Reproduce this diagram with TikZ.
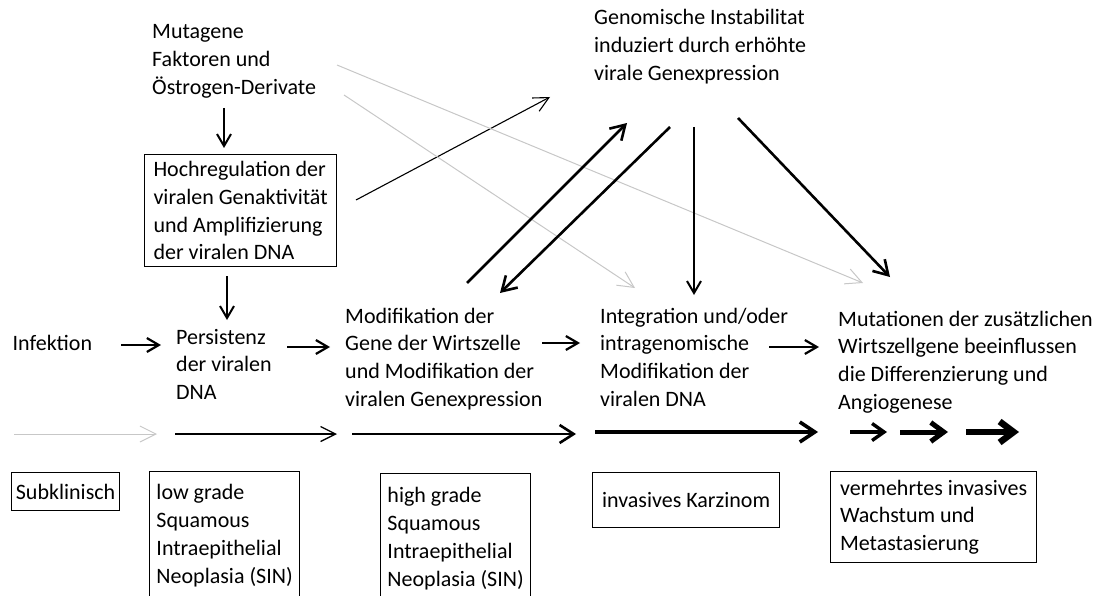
\documentclass[tikz,border=0pt]{standalone}
\usepackage{fontspec}
\setmainfont{Carlito}
\usetikzlibrary{arrows.meta}
\newcommand{\schrift}{\fontsize{22pt}{27.7pt}\selectfont}
\tikzset{
  txt/.style={anchor=base west, inner sep=0pt, align=left, font=\schrift},
  kasten/.style={draw, line width=1.2pt, anchor=north west, inner sep=0pt,
    align=left, font=\schrift},
  pfeil/.style={line width=2pt, -{Straight Barb[length=12pt, width=14pt]}},
  dick/.style={line width=2.6pt, -{Straight Barb[length=14pt, width=17pt]}},
  duenn/.style={line width=1.1pt, -{Straight Barb[length=15pt, width=15pt]}},
  grau/.style={line width=1pt, draw=black!22,
    -{Straight Barb[length=16pt, width=16pt]}},
}

\begin{document}
\begin{tikzpicture}[x=1pt, y=-1pt]
\path[use as bounding box, clip] (0,0) rectangle (1102,596);
% obere Reihe (base = letzte Zeile)
\node[txt] (mutag) at (152,94.4) {Mutagene\\Faktoren und\\Östrogen-Derivate};
\node[txt] (genom) at (594,80.4) {Genomische Instabilitat\\induziert durch erhöhte\\virale Genexpression};
\node[kasten, minimum width=192pt, minimum height=112pt] (hoch) at (144,154)
  {Hochregulation der\\viralen Genaktivität\\und Amplifizierung\\der viralen DNA};
% mittlere Reihe
\node[txt] (infekt) at (12.5,350) {Infektion};
\node[txt] (persist) at (176,399.4) {Persistenz\\der viralen\\DNA};
\node[txt] (modif) at (345,406.1) {Modifikation der\\Gene der Wirtszelle\\und Modifikation der\\viralen Genexpression};
\node[txt] (integ) at (600,406.1) {Integration und/oder\\intragenomische\\Modifikation der\\viralen DNA};
\node[txt] (mutat) at (838,409.1) {Mutationen der zusätzlichen\\Wirtszellgene beeinflussen\\die Differenzierung und\\Angiogenese};
% untere Reihe
\node[kasten, minimum width=108pt, minimum height=38pt] (subkl) at (11,472) {Subklinisch};
\node[kasten, minimum width=150pt, minimum height=128pt] (low) at (149,471)
  {low grade\\Squamous\\Intraepithelial\\Neoplasia (SIN)};
\node[kasten, minimum width=150pt, minimum height=130pt] (high) at (380,473)
  {high grade\\Squamous\\Intraepithelial\\Neoplasia (SIN)};
\node[kasten, minimum width=187pt, minimum height=55pt] (inv) at (592,472) {invasives Karzinom};
\node[kasten, minimum width=206pt, minimum height=91pt] (verm) at (830,471)
  {vermehrtes invasives\\Wachstum und\\Metastasierung};

% Pfeile oben
\draw[pfeil] ([shift={(72,13.6)}]mutag.base west) -- ([shift={(80,-6)}]hoch.north west);
\draw[pfeil] ([shift={(83,122)}]hoch.north west) -- ([shift={(51,-79.4)}]persist.base west);
\draw[duenn] ([shift={(212,46)}]hoch.north west) -- ([shift={(-44,16.6)}]genom.base west);
\draw[grau] ([shift={(192,0.6)}]mutag.base west) -- ([shift={(35,-118.1)}]integ.base west);
\draw[grau] ([shift={(185,-29.4)}]mutag.base west) -- ([shift={(25,-126.1)}]mutat.base west);
\draw[dick] ([shift={(122,-123.1)}]modif.base west) -- ([shift={(33,42.6)}]genom.base west);
\draw[dick] ([shift={(76,46.6)}]genom.base west) -- ([shift={(155,-113.1)}]modif.base west);
\draw[pfeil] ([shift={(100,46.6)}]genom.base west) -- ([shift={(94,-111.1)}]integ.base west);
\draw[dick] ([shift={(144,37.6)}]genom.base west) -- ([shift={(52,-132.1)}]mutat.base west);

% Pfeile mitte
\draw[pfeil, line width=2.2pt] ([shift={(108.5,-5)}]infekt.base west) -- ([shift={(-15,-54.4)}]persist.base west);
\draw[pfeil, line width=2.2pt] ([shift={(111,-52.4)}]persist.base west) -- ([shift={(-15,-59.1)}]modif.base west);
\draw[pfeil, line width=2.2pt] ([shift={(197,-63.1)}]modif.base west) -- ([shift={(-20,-63.1)}]integ.base west);
\draw[pfeil, line width=2.2pt] ([shift={(169,-59.1)}]integ.base west) -- ([shift={(-19,-62.1)}]mutat.base west);

% Zeitachse
\coordinate (a0) at (14,434);  \coordinate (a1) at (157,434);
\coordinate (b0) at (175,434); \coordinate (b1) at (337,434);
\coordinate (c0) at (352,434); \coordinate (c1) at (576,434);
\coordinate (d0) at (595,432); \coordinate (d1) at (818,432);
\coordinate (e0) at (850,432); \coordinate (e1) at (887,432);
\coordinate (f0) at (900,432); \coordinate (f1) at (948,432);
\coordinate (g0) at (966,432); \coordinate (g1) at (1019,432);
\draw[grau] (a0) -- (a1);
\draw[duenn, line width=1.3pt] (b0) -- (b1);
\draw[line width=2.6pt, -{Straight Barb[length=14pt, width=18pt]}] (c0) -- (c1);
\draw[line width=3.6pt, -{Straight Barb[length=15pt, width=20pt]}] (d0) -- (d1);
\draw[line width=3.4pt, -{Straight Barb[length=12pt, width=17pt]}] (e0) -- (e1);
\draw[line width=5pt, -{Straight Barb[length=13pt, width=19pt]}] (f0) -- (f1);
\draw[line width=6.5pt, -{Straight Barb[length=14pt, width=21pt]}] (g0) -- (g1);
\end{tikzpicture}
\end{document}
